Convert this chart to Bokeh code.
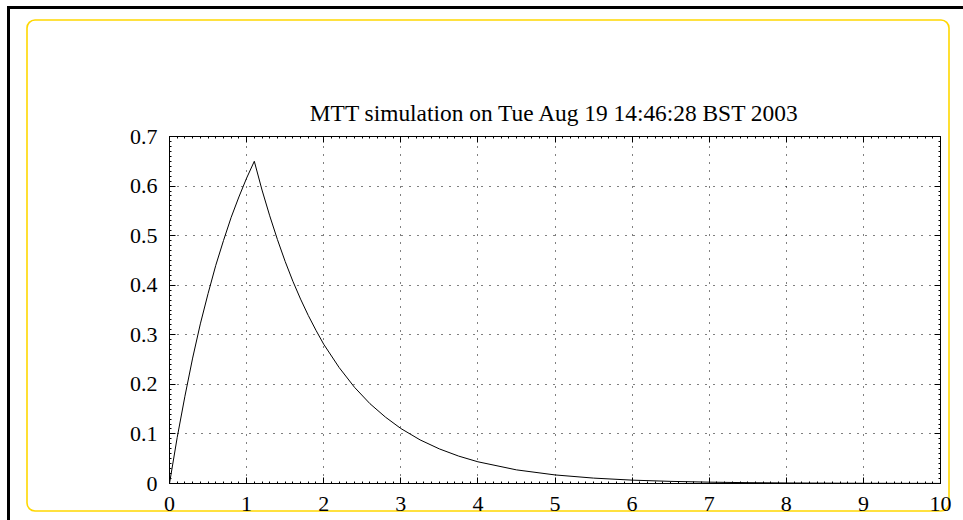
from bokeh.plotting import figure
from bokeh.models import Range1d, LinearAxis, FixedTicker, ColumnDataSource, Grid
from bokeh.embed import file_html
from bokeh.resources import INLINE

# ---- data ----
t = [0.0, 0.1, 0.2, 0.3, 0.4, 0.5, 0.6, 0.7, 0.8, 0.9, 1.0, 1.1,
     1.2, 1.3, 1.4, 1.5, 1.6, 1.7, 1.8, 1.9, 2.0, 2.2, 2.4, 2.6, 2.8, 3.0,
     3.25, 3.5, 3.75, 4.0, 4.5, 5.0, 5.5, 6.0, 6.5, 7.0, 7.5, 8.0, 8.5,
     9.0, 9.5, 10.0]
y = [0.0, 0.093, 0.176, 0.253, 0.322, 0.383, 0.440, 0.490, 0.537, 0.578, 0.616, 0.650,
     0.592, 0.540, 0.492, 0.448, 0.408, 0.372, 0.339, 0.309, 0.281, 0.234, 0.194, 0.161, 0.134, 0.111,
     0.088, 0.0698, 0.0553, 0.0438, 0.0275, 0.0173, 0.0109, 0.0068, 0.0043, 0.0027, 0.0017, 0.0011, 0.0007,
     0.00043, 0.00027, 0.00017]

x_ticks = [0, 1, 2, 3, 4, 5, 6, 7, 8, 9, 10]
x_tick_labels = ["0", "1", "2", "3", "4", "5", "6", "7", "8", "9", "10"]
y_ticks = [0, 0.1, 0.2, 0.3, 0.4, 0.5, 0.6, 0.7]
y_tick_labels = ["0", "0.1", "0.2", "0.3", "0.4", "0.5", "0.6", "0.7"]

title_text = "MTT simulation on Tue Aug 19 14:46:28 BST 2003"

FONT = "Liberation Serif"
W, H = 963, 520

p = figure(width=W, height=H, output_backend="svg", toolbar_location=None,
           x_range=Range1d(0, 10), y_range=Range1d(0, 0.7),
           x_axis_type=None, y_axis_type=None,
           min_border_left=169, min_border_right=23, min_border_top=136, min_border_bottom=37)

p.title.text = title_text
p.title.align = "center"
p.title.text_font = FONT
p.title.text_font_size = "23.4px"
p.title.text_font_style = "normal"
p.title.text_color = "black"
p.title.standoff = 21

p.background_fill_color = "white"
p.border_fill_color = None
p.outline_line_color = "black"
p.outline_line_width = 1

# page decorations behind the (transparent) canvas border: black page edge
# and the rounded yellow box
deco_svg = ("<svg xmlns='http://www.w3.org/2000/svg' width='963' height='520'>"
            "<rect x='7' y='6' width='3' height='514' fill='black'/>"
            "<rect x='7' y='6' width='956' height='3' fill='black'/>"
            "<rect x='27' y='20' width='922' height='491' rx='8' ry='8' fill='none' "
            "stroke='%23FFD700' stroke-width='1.6'/>"
            "</svg>")
p.styles = {"background-color": "white",
            "background-image": 'url("data:image/svg+xml;utf8,' + deco_svg + '")',
            "background-repeat": "no-repeat"}


def make_axis(ticks, labels, show_labels, standoff):
    ax = LinearAxis(ticker=FixedTicker(ticks=ticks, minor_ticks=[
        ticks[i] + (ticks[i + 1] - ticks[i]) * k / 10.0
        for i in range(len(ticks) - 1) for k in range(1, 10)]))
    ax.axis_line_color = "black"
    ax.major_tick_line_color = "black"
    ax.minor_tick_line_color = "black"
    ax.major_tick_in = 6
    ax.major_tick_out = 0
    ax.minor_tick_in = 2
    ax.minor_tick_out = 0
    ax.major_label_text_font = FONT
    ax.major_label_text_font_style = "normal"
    if show_labels:
        ax.major_label_overrides = {tk: lb for tk, lb in zip(ticks, labels)}
        ax.major_label_text_color = "black"
        ax.major_label_text_font_size = "22px"
        ax.major_label_standoff = standoff
    else:
        # mirrored tick marks only (no labels), as in the reference
        ax.major_label_overrides = {tk: "" for tk in ticks}
        ax.major_label_text_color = None
        ax.major_label_text_font_size = "1px"
        ax.major_label_standoff = 0
    return ax


xb = make_axis(x_ticks, x_tick_labels, True, 13)
yl = make_axis(y_ticks, y_tick_labels, True, 12)
xt = make_axis(x_ticks, x_tick_labels, False, 0)
yr = make_axis(y_ticks, y_tick_labels, False, 0)
p.add_layout(xb, "below")
p.add_layout(yl, "left")
p.add_layout(xt, "above")
p.add_layout(yr, "right")

xg = Grid(dimension=0, ticker=FixedTicker(ticks=x_ticks))
yg = Grid(dimension=1, ticker=FixedTicker(ticks=y_ticks))
for g in (xg, yg):
    g.grid_line_color = "black"
    g.grid_line_dash = "1 7"
    g.grid_line_width = 1
    p.add_layout(g, "center")

src = ColumnDataSource(data=dict(t=t, y=y))
p.line("t", "y", source=src, line_color="black", line_width=1)

open("out.html", "w").write(file_html(p, INLINE))
